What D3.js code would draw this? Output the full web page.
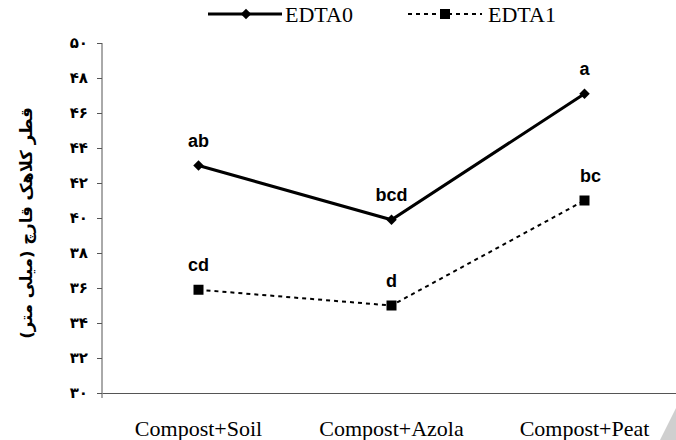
<!DOCTYPE html>
<html>
<head>
<meta charset="utf-8">
<script src="https://d3js.org/d3.v7.min.js"></script>
<style>
  * { margin: 0; padding: 0; }
  body { background: #fff; }
  svg { display: block; }
  .serif { font-family: "Times New Roman", "Liberation Serif", "DejaVu Serif", serif; }
</style>
</head>
<body>
<div class="main"></div>
<script>
// data
const categories = ["Compost+Soil", "Compost+Azola", "Compost+Peat"];
const edta0 = [43.0, 39.9, 47.1];
const edta1 = [35.9, 35.0, 41.0];
const labels0 = ["ab", "bcd", "a"];
const labels1 = ["cd", "d", "bc"];
const seriesNames = ["EDTA0", "EDTA1"];
const yTicks = [30, 32, 34, 36, 38, 40, 42, 44, 46, 48, 50];
const yTitle = "قطر کلاهک قارچ (میلی متر)";

const w = 676, h = 440;
const persian = "۰۱۲۳۴۵۶۷۸۹";
const toFa = n => String(n).replace(/\d/g, d => persian[d]);

const svg = d3.select(".main").append("svg")
  .attr("width", w).attr("height", h);

const xScale = d3.scaleBand().domain(categories).range([102, 681]);
const yScale = d3.scaleLinear().domain([30, 50]).range([393, 43]);
const cx = c => xScale(c) + xScale.bandwidth() / 2;

// y axis
const yAxis = d3.axisLeft(yScale).tickValues(yTicks).tickSize(5).tickFormat(toFa);
const gy = svg.append("g").attr("transform", "translate(102,0)").call(yAxis);
gy.select(".domain").attr("stroke", "#555").attr("d", "M0,43V398");
gy.selectAll(".tick line").attr("stroke", "#555");
gy.selectAll(".tick text")
  .attr("x", -14)
  .style("font-family", "'DejaVu Sans'")
  .style("font-weight", "bold")
  .style("font-size", "15px")
  .attr("fill", "#000");

// x axis
const xAxis = d3.axisBottom(xScale).tickSize(0).tickPadding(0);
const gx = svg.append("g").attr("transform", "translate(0,393)").call(xAxis);
gx.select(".domain").attr("stroke", "#555");
gx.selectAll(".tick text")
  .attr("class", "serif")
  .attr("dy", null)
  .attr("y", 43)
  .style("font-size", "22px")
  .attr("fill", "#000");

// y title
svg.append("text")
  .attr("transform", "translate(32,223) rotate(-90)")
  .attr("text-anchor", "middle")
  .style("font-family", "'DejaVu Sans'")
  .style("font-weight", "bold")
  .style("font-size", "16.5px")
  .attr("direction", "rtl")
  .text(yTitle);

const line = d3.line().x((d, i) => cx(categories[i])).y(d => yScale(d));

// EDTA1 dashed
svg.append("path").datum(edta1)
  .attr("d", line).attr("fill", "none")
  .attr("stroke", "#000").attr("stroke-width", 2).attr("stroke-dasharray", "4,4");
svg.selectAll(".sq").data(edta1).enter().append("rect")
  .attr("x", (d, i) => cx(categories[i]) - 5)
  .attr("y", d => yScale(d) - 5)
  .attr("width", 10).attr("height", 10).attr("fill", "#000");

// EDTA0 solid
svg.append("path").datum(edta0)
  .attr("d", line).attr("fill", "none")
  .attr("stroke", "#000").attr("stroke-width", 3);
svg.selectAll(".dm").data(edta0).enter().append("path")
  .attr("d", d3.symbol().type(d3.symbolDiamond2).size(70))
  .attr("transform", (d, i) => "translate(" + cx(categories[i]) + "," + yScale(d) + ")")
  .attr("fill", "#000");

// significance letters
function letters(vals, labs) {
  svg.append("g").selectAll("text").data(vals).enter().append("text")
    .attr("x", (d, i) => cx(categories[i]) + (i === 2 && labs === labels1 ? 6 : 0))
    .attr("y", d => yScale(d) - 19)
    .attr("text-anchor", "middle")
    .style("font-family", "'Liberation Sans', Arial, sans-serif")
    .style("font-weight", "bold")
    .style("font-size", "18px")
    .text((d, i) => labs[i]);
}
letters(edta0, labels0);
letters(edta1, labels1);

// legend
const lg = svg.append("g");
lg.append("line").attr("x1", 208).attr("x2", 282).attr("y1", 14).attr("y2", 14)
  .attr("stroke", "#000").attr("stroke-width", 3);
lg.append("path").attr("d", d3.symbol().type(d3.symbolDiamond2).size(70))
  .attr("transform", "translate(246,14)");
lg.append("text").attr("class", "serif").attr("x", 285).attr("y", 22)
  .style("font-size", "22px").text(seriesNames[0]);
lg.append("line").attr("x1", 408).attr("x2", 482).attr("y1", 14).attr("y2", 14)
  .attr("stroke", "#000").attr("stroke-width", 2).attr("stroke-dasharray", "4,4");
lg.append("rect").attr("x", 440).attr("y", 9).attr("width", 10).attr("height", 10);
lg.append("text").attr("class", "serif").attr("x", 488).attr("y", 22)
  .style("font-size", "22px").text(seriesNames[1]);

// page-corner fold
svg.append("path").attr("d", "M676,408L676,440L660,440Z").attr("fill", "#cfcfcf");
</script>
</body>
</html>
